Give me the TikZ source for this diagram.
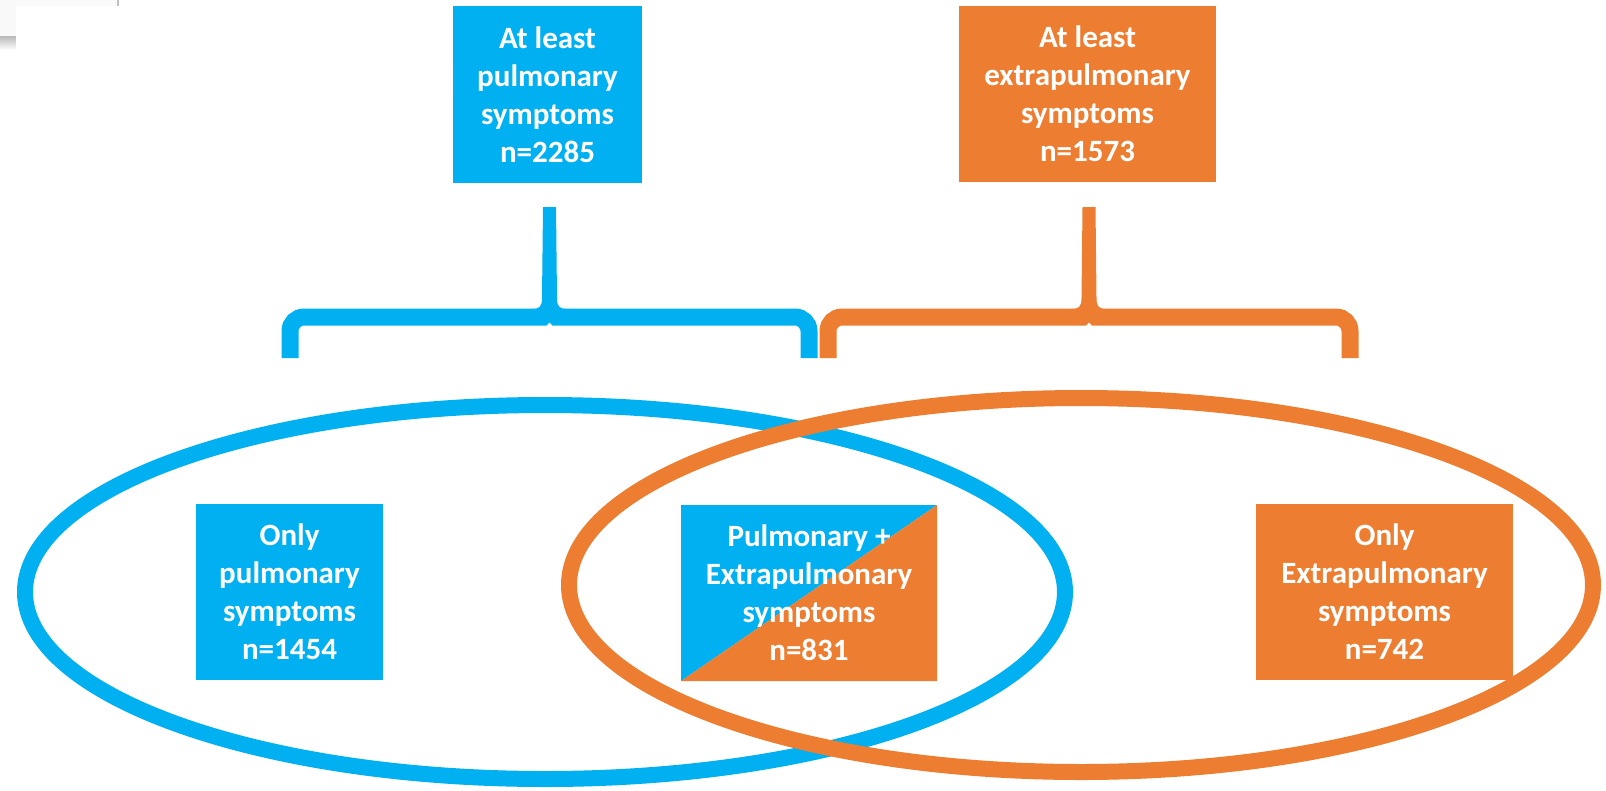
\documentclass[tikz,border=0pt]{standalone}
\usepackage{fontspec}
\setmainfont{Carlito}
\definecolor{bluec}{HTML}{00B0F0}
\definecolor{orangec}{HTML}{ED7D31}
\tikzset{
  boxtxt/.style={inner sep=0pt, align=center, text=white,
    font=\fontsize{31}{38}\selectfont\bfseries},
  bluebox/.style={boxtxt, fill=bluec},
  orangebox/.style={boxtxt, fill=orangec},
  splitbox/.style={boxtxt, path picture={
      \fill[bluec] (path picture bounding box.south west) -- (path picture bounding box.north west) -- (path picture bounding box.north east) -- cycle;
      \fill[orangec] (path picture bounding box.south west) -- (path picture bounding box.north east) -- (path picture bounding box.south east) -- cycle;}},
  ring/.style={line width=16pt},
  bracebar/.style={line width=17pt, rounded corners=14pt}
}
\begin{document}
\begin{tikzpicture}[x=1pt,y=-1pt]
\useasboundingbox (0,0) rectangle (1606,790);
% top-left window artifact
\fill[gray!5] (0,0) rectangle (118,36);
\shade[top color=gray!55, bottom color=white] (0,36) rectangle (16,50);
\draw[gray!50, line width=2pt] (118,0) -- (118,6);
\fill[white] (16,6) rectangle (140,60);

% ellipses
\draw[ring, bluec] (545,592) ellipse [x radius=520, y radius=187];
\draw[ring, orangec] (1081,585) ellipse [x radius=512, y radius=187];

% top boxes
\node[bluebox, minimum width=189pt, minimum height=177pt] (topP) at (547.5,94.5) {At least\\pulmonary\\symptoms\\n=2285};
\node[orangebox, minimum width=257pt, minimum height=176pt] (topE) at (1087.5,94) {At least\\extrapulmonary\\symptoms\\n=1573};

% bottom boxes
\node[bluebox, minimum width=187pt, minimum height=176pt] (onlyP) at (289.5,592) {Only\\pulmonary\\symptoms\\n=1454};
\node[splitbox, minimum width=256pt, minimum height=176pt] (both) at (809,593) {Pulmonary +\\Extrapulmonary\\symptoms\\n=831};
\node[orangebox, minimum width=257pt, minimum height=176pt] (onlyE) at (1384.5,592) {Only\\Extrapulmonary\\symptoms\\n=742};

% blue brace
\draw[bracebar, bluec] (290,358) -- (290,317) -- (809,317) -- (809,358);
\fill[bluec] (543,207) -- (556,207) -- (557,298) .. controls (557,306) and (559,309) .. (567,309) -- (532,309) .. controls (540,309) and (542,306) .. (542,298) -- cycle;
\fill[white] (546,326.5) -- (549.5,322.5) -- (553,326.5) -- cycle;

% orange brace
\draw[bracebar, orangec] (828,358) -- (828,317) -- (1350,317) -- (1350,358);
\fill[orangec] (1082.5,207) -- (1095.5,207) -- (1096.5,298) .. controls (1096.5,306) and (1098.5,309) .. (1106.5,309) -- (1071.5,309) .. controls (1079.5,309) and (1081.5,306) .. (1081.5,298) -- cycle;
\fill[white] (1085.5,326.5) -- (1089,322.5) -- (1092.5,326.5) -- cycle;
\end{tikzpicture}
\end{document}
